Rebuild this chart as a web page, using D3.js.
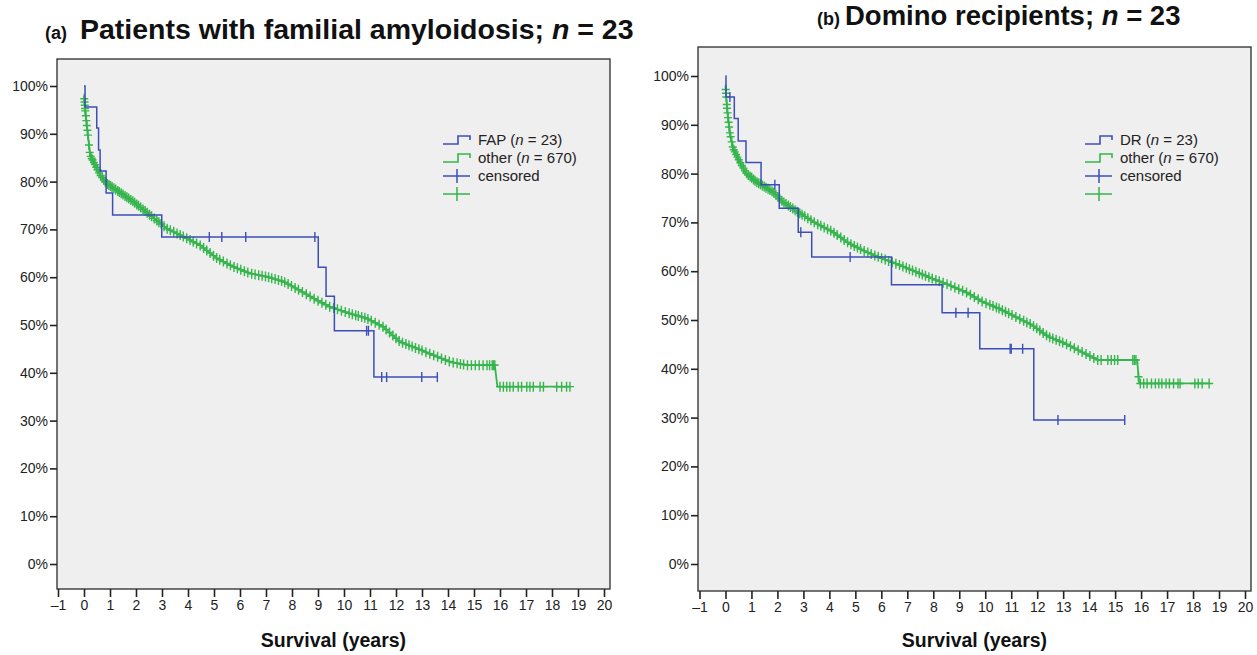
<!doctype html>
<html>
<head>
<meta charset="utf-8">
<style>
    body { margin: 0; background: #fff; }
    svg { font-family: "Liberation Sans", Arial, sans-serif; }
    .tick text { fill: #222; font-size: 14px; }
    .tick line { stroke: #222; stroke-width: 1.6; }
</style>
</head>
<body>
<svg id="chart" width="1257" height="655"></svg>
<script src="https://d3js.org/d3.v7.min.js"></script>
<script>

// x ticks (years) and y ticks (survival %)
var xTicks = [-1,0,1,2,3,4,5,6,7,8,9,10,11,12,13,14,15,16,17,18,19,20];
var yTicks = [0,10,20,30,40,50,60,70,80,90,100];

// panel (a): FAP group, step points [years, survival %]
var fapCurve = [[0,100],[0.04,95.6],[0.49,91.2],[0.56,86.6],[0.62,82.2],[0.85,77.6],[1.1,73.0],
    [2.99,68.4],[9.01,62.1],[9.31,56.0],[9.63,48.8],[11.15,39.1],[13.59,39.1]];
var fapCensored = [4.82,5.3,6.22,8.88,10.87,10.94,11.45,11.64,12.99,13.59];

// panel (a): other group (n = 670)
var otherCurveA = [[0,98],[0.04,95.3],[0.17,88.7],[0.23,85.6],[0.36,84.2],[0.62,81.4],[0.87,79.6],
    [1.26,78.2],[1.9,75.8],[2.54,73.0],[3.18,70.2],[3.82,68.5],[4.46,66.7],[5.1,64.0],[5.74,62.2],
    [6.38,60.8],[7.03,60.1],[7.67,59.1],[8.31,57.2],[8.95,55.2],[9.46,53.8],[10.23,52.4],[10.87,51.4],
    [11.51,49.6],[12.15,46.5],[12.8,45.1],[13.43,43.7],[14.08,42.3],[14.72,41.6],[15.8,41.6],
    [15.9,37.1],[18.69,37.1]];
var otherCensoredA = [0.01,0.02,0.03,0.04,0.05,0.07,0.09,0.11,0.13,0.15,0.19,0.22,0.26,0.3,0.33,0.38,
    0.42,0.47,0.52,0.58,0.64,0.7,0.76,0.82,0.9,0.96,1.02,1.08,1.15,1.22,1.3,1.36,1.43,1.5,1.58,1.65,
    1.72,1.8,1.88,1.95,2.03,2.1,2.18,2.27,2.35,2.43,2.52,2.6,2.7,2.8,2.88,2.97,3.08,3.2,3.32,3.45,3.58,
    3.7,3.82,3.95,4.08,4.2,4.33,4.47,4.6,4.72,4.85,4.98,5.1,5.22,5.36,5.5,5.63,5.77,5.9,6.03,6.17,6.3,
    6.45,6.58,6.72,6.85,6.98,7.1,7.22,7.35,7.48,7.6,7.72,7.85,7.98,8.12,8.25,8.4,8.55,8.7,8.85,9.0,
    9.15,9.3,9.45,9.6,9.75,9.9,10.05,10.2,10.32,10.45,10.55,10.68,10.8,10.92,11.05,11.2,11.35,11.5,
    11.62,11.75,11.88,12.0,12.12,12.25,12.38,12.5,12.62,12.75,12.88,13.0,13.15,13.3,13.45,13.6,13.75,
    13.9,14.05,14.2,14.35,14.48,14.6,14.75,14.9,15.05,15.2,15.35,15.5,15.6,15.7,15.75,15.8,16.0,16.13,
    16.26,16.38,16.51,16.7,16.83,17.03,17.15,17.28,17.54,17.67,18.18,18.37,18.56,18.69];

// panel (b): domino recipients
var drCurve = [[0,100],[0.02,95.7],[0.34,91.3],[0.49,86.7],[0.79,82.3],[1.37,77.7],[2.07,72.9],
    [2.8,68.0],[3.32,62.9],[6.39,57.2],[8.34,51.5],[9.79,44.1],[11.87,29.5],[15.37,29.5]];
var drCensored = [0.17,1.9,2.9,4.8,8.87,9.34,10.96,11.0,11.44,12.8,15.37];

// panel (b): other group (n = 670)
var otherCurveB = [[0,98],[0.06,93.4],[0.16,88.6],[0.29,85.2],[0.55,82.4],[0.8,80.1],[1.19,78.3],
    [1.82,76.3],[2.21,74.2],[2.85,71.9],[3.49,69.8],[4.12,68.1],[4.76,65.7],[5.4,64.0],[6.04,62.6],
    [6.68,61.3],[7.32,59.9],[7.95,58.5],[8.59,57.2],[9.3,55.6],[9.87,53.8],[10.51,52.4],[11.15,50.7],
    [11.79,49.0],[12.43,46.6],[13.07,45.2],[13.7,43.5],[14.34,41.8],[15.85,41.8],[15.92,37.0],[18.62,37.0]];
var otherCensoredB = [0.01,0.02,0.03,0.05,0.06,0.08,0.1,0.12,0.14,0.17,0.2,0.24,0.28,0.32,0.36,0.41,
    0.46,0.51,0.57,0.63,0.69,0.75,0.81,0.88,0.95,1.01,1.08,1.14,1.21,1.28,1.35,1.42,1.49,1.56,1.64,
    1.71,1.79,1.86,1.94,2.02,2.09,2.17,2.25,2.33,2.42,2.5,2.59,2.68,2.77,2.86,2.95,3.05,3.17,3.29,
    3.42,3.55,3.67,3.8,3.93,4.05,4.18,4.3,4.44,4.57,4.7,4.83,4.96,5.08,5.2,5.34,5.48,5.61,5.75,5.88,
    6.01,6.15,6.28,6.42,6.56,6.7,6.83,6.96,7.08,7.2,7.33,7.46,7.58,7.7,7.83,7.96,8.1,8.23,8.38,8.53,
    8.68,8.83,8.98,9.13,9.28,9.43,9.58,9.73,9.88,10.03,10.18,10.3,10.43,10.53,10.66,10.78,10.9,11.03,
    11.18,11.33,11.48,11.6,11.73,11.86,11.98,12.1,12.23,12.36,12.48,12.6,12.73,12.86,12.98,13.13,
    13.28,13.43,13.58,13.73,13.88,14.03,14.18,14.33,14.46,14.72,14.85,14.98,15.1,15.68,15.74,15.8,
    15.9,15.97,16.1,16.23,16.4,16.55,16.68,16.8,16.96,17.09,17.25,17.42,17.5,18.07,18.2,18.35,18.62];

var blue = "#3c4fb8", green = "#35b54c";
var svg = d3.select("#chart");

// titles
var tA = svg.append("text").attr("y", 39).attr("font-weight", "bold").attr("fill", "#111");
tA.append("tspan").attr("x", 45).attr("font-size", "18px").text("(a)");
tA.append("tspan").attr("x", 80).attr("font-size", "28.5px").text("Patients with familial amyloidosis; ");
tA.append("tspan").attr("font-size", "28.5px").attr("font-style", "italic").text("n");
tA.append("tspan").attr("font-size", "28.5px").text(" = 23");

var tB = svg.append("text").attr("y", 25).attr("font-weight", "bold").attr("fill", "#111");
tB.append("tspan").attr("x", 817).attr("font-size", "18px").text("(b)");
tB.append("tspan").attr("x", 845).attr("font-size", "27.5px").text("Domino recipients; ");
tB.append("tspan").attr("font-size", "27.5px").attr("font-style", "italic").text("n");
tB.append("tspan").attr("font-size", "27.5px").text(" = 23");

function valueAt(curve, t, stepped) {
    var v = curve[0][1];
    for (var i = 1; i < curve.length; i++) {
        if (curve[i][0] > t) {
            if (stepped) return v;
            var a = curve[i-1], b = curve[i];
            return a[1] + (b[1]-a[1]) * (t-a[0]) / (b[0]-a[0]);
        }
        v = curve[i][1];
    }
    return v;
}

function panel(p) {
    var x = d3.scaleLinear().domain([-1, 20]).range([p.x0, p.x1]);
    var y = d3.scaleLinear().domain([0, 100]).range([p.y0, p.y100]);
    var g = svg.append("g");

    g.append("rect")
        .attr("x", p.box[0]).attr("y", p.box[1])
        .attr("width", p.box[2] - p.box[0]).attr("height", p.box[3] - p.box[1])
        .attr("fill", "#efefef").attr("stroke", "#3a3a3a").attr("stroke-width", 1.4);

    var ya = g.append("g").attr("transform", "translate(" + p.box[0] + ",0)")
        .call(d3.axisLeft(y).tickValues(yTicks).tickSize(7).tickPadding(2)
            .tickFormat(function(d) { return d + "%"; }));
    ya.select(".domain").remove();

    var xa = g.append("g").attr("transform", "translate(0," + p.box[3] + ")")
        .call(d3.axisBottom(x).tickValues(xTicks).tickSize(8).tickPadding(3)
            .tickFormat(function(d) { return d < 0 ? "\u2013" + (-d) : d; }));
    xa.select(".domain").remove();

    g.append("text")
        .attr("x", (p.box[0] + p.box[2]) / 2).attr("y", 647)
        .attr("text-anchor", "middle").attr("font-weight", "bold").attr("font-size", "19.5px")
        .attr("fill", "#111").text("Survival (years)");

    // other group (drawn first)
    g.append("path").datum(p.other)
        .attr("fill", "none").attr("stroke", green).attr("stroke-width", 1.8)
        .attr("d", d3.line().x(function(d) { return x(d[0]); }).y(function(d) { return y(d[1]); }));
    g.selectAll(".cg").data(p.otherCens).enter().append("path")
        .attr("fill", "none").attr("stroke", green).attr("stroke-width", 1.4)
        .attr("d", function(t) {
            var cx = x(t), cy = y(valueAt(p.other, t, false));
            return "M" + (cx - 4) + "," + cy + "H" + (cx + 4) + "M" + cx + "," + (cy - 5) + "V" + (cy + 5);
        });

    // index group
    g.append("path").datum(p.group)
        .attr("fill", "none").attr("stroke", blue).attr("stroke-width", 1.5)
        .attr("d", d3.line().curve(d3.curveStepAfter)
            .x(function(d) { return x(d[0]); }).y(function(d) { return y(d[1]); }));
    g.selectAll(".cb").data(p.groupCens).enter().append("line")
        .attr("stroke", blue).attr("stroke-width", 1.4)
        .attr("x1", function(t) { return x(t); }).attr("x2", function(t) { return x(t); })
        .attr("y1", function(t) { return y(valueAt(p.group, t, true)) - 5; })
        .attr("y2", function(t) { return y(valueAt(p.group, t, true)) + 5; });

    // legend
    var lx = p.legX, ly = 140;
    var leg = g.append("g").attr("font-size", "15px").attr("fill", "#222");
    [[blue, p.groupLabel, "23"], [green, "other", "670"]].forEach(function(r, i) {
        var yy = ly + i * 18;
        leg.append("path").attr("fill", "none").attr("stroke", r[0]).attr("stroke-width", 1.6)
            .attr("d", "M" + lx + "," + (yy + 4) + "H" + (lx + 15) + "V" + (yy - 4) + "H" + (lx + 27) + "V" + (yy));
        var t = leg.append("text").attr("x", lx + 35).attr("y", yy + 5);
        t.append("tspan").text(r[1] + " (");
        t.append("tspan").attr("font-style", "italic").text("n");
        t.append("tspan").text(" = " + r[2] + ")");
    });
    [blue, green].forEach(function(c, i) {
        var yy = ly + 36 + i * 18;
        leg.append("path").attr("fill", "none").attr("stroke", c).attr("stroke-width", 1.5)
            .attr("d", "M" + lx + "," + yy + "H" + (lx + 27) + "M" + (lx + 14) + "," + (yy - 7) + "V" + (yy + 7));
    });
    leg.append("text").attr("x", lx + 35).attr("y", ly + 41).text("censored");
}

panel({ x0: 58, x1: 604, y0: 564, y100: 86, box: [57, 59, 610, 589], legX: 443,
    group: fapCurve, groupCens: fapCensored, other: otherCurveA, otherCens: otherCensoredA, groupLabel: "FAP" });
panel({ x0: 699.5, x1: 1245, y0: 564, y100: 76, box: [698, 47, 1251, 591], legX: 1085,
    group: drCurve, groupCens: drCensored, other: otherCurveB, otherCens: otherCensoredB, groupLabel: "DR" });

</script>
</body>
</html>
